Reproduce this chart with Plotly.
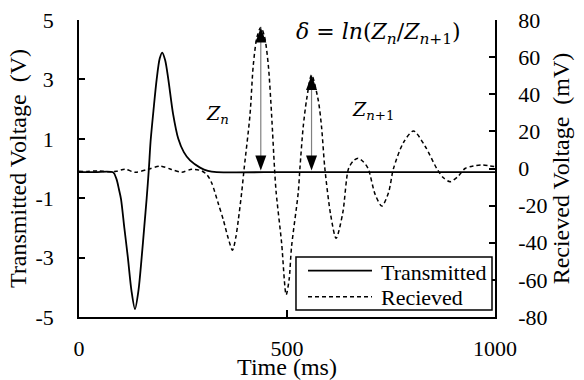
import plotly.graph_objects as go

# ---------------- data ----------------
t_tx = [0, 40, 82, 90, 96, 101, 109, 117.5, 126, 134.6, 143, 150.6, 157, 162.7, 168,
        172, 179, 186.7, 194, 200, 207, 214.7, 226, 238.7, 252, 267, 291, 310, 331,
        500, 700, 1000]
v_tx = [-0.12, -0.12, -0.13, -0.35, -0.7, -1.03, -2.0, -3.0, -4.1, -4.73, -4.1, -3.0, -1.95, -1.0, 0.0,
        0.9, 1.95, 3.0, 3.7, 3.9, 3.65, 3.0, 1.85, 1.0, 0.55, 0.27, 0.03, -0.08, -0.12,
        -0.12, -0.12, -0.12]

t_rx = [0, 20, 45, 70, 90, 110, 135, 165, 195, 222, 247, 271, 295, 308, 319, 335, 347, 358,
        369, 377, 383, 391, 397, 411, 419, 428, 437, 446, 455, 463, 470, 474, 487, 498,
        505, 511, 527, 531, 539, 547, 559, 575, 583, 591, 605, 618, 634, 648, 660, 671,
        684, 695, 712, 728, 744, 756, 780, 804, 832, 860, 876, 892, 910, 928, 948, 968,
        985, 1000]
v_rx = [-1.5, -1.6, -1.3, -1.7, -1.5, -0.4, -2.0, -0.5, 1.3, -0.5, -2.0, -0.4, -1.3, -3.5, -7.8, -19, -27.7, -37,
        -44, -37, -27.7, -13, 0, 28.8, 55.8, 71, 76, 71, 55.8, 28.8, 0, -13, -40, -68,
        -60, -42, -13, 0, 22.5, 36.9, 50.4, 36.9, 22.5, 0, -25, -37.6, -24, 0, 4.2, 5.5,
        3.5, 0, -14, -20.2, -13, 0, 14, 20.2, 12, 0, -5, -7.1, -4.5, 0, 1.4, 1.9,
        1.5, 1.0]

x_ticks = [0, 500, 1000]
y1_ticks = [-5, -3, -1, 1, 3, 5]
y2_ticks = [-80, -60, -40, -20, 0, 20, 40, 60, 80]

series_names = ["Transmitted", "Recieved"]

FONT = "Liberation Serif"
TX_LINE = dict(color="black", width=1.8)
RX_LINE = dict(color="black", width=1.5, dash="4px,3px")

fig = go.Figure()
fig.add_trace(go.Scatter(
    x=t_tx, y=v_tx, name=series_names[0], mode="lines", yaxis="y", showlegend=False,
    line=dict(**TX_LINE, shape="spline", smoothing=0.8)))
fig.add_trace(go.Scatter(
    x=t_rx, y=v_rx, name=series_names[1], mode="lines", yaxis="y2", showlegend=False,
    line=dict(**RX_LINE, shape="spline", smoothing=0.8)))

# ---------------- double arrows at the two marked peaks ----------------
i1 = max(range(len(v_rx)), key=lambda i: v_rx[i])
i2 = max((i for i in range(len(v_rx)) if t_rx[i] > 520), key=lambda i: v_rx[i])
shapes = []
for i in (i1, i2):
    tx, pk = t_rx[i], v_rx[i]
    shapes.append(dict(type="line", xref="x", yref="y2", x0=tx, x1=tx, y0=0, y1=pk,
                       line=dict(color="#808080", width=1.2)))
    shapes.append(dict(type="path", xref="x", yref="y2", xsizemode="pixel", ysizemode="pixel",
                       xanchor=tx, yanchor=pk, path="M0,0 L-5.5,-15 L5.5,-15 Z",
                       fillcolor="black", line=dict(width=0)))
    shapes.append(dict(type="path", xref="x", yref="y2", xsizemode="pixel", ysizemode="pixel",
                       xanchor=tx, yanchor=0, path="M0,-2 L-5.5,13 L5.5,13 Z",
                       fillcolor="black", line=dict(width=0)))

# ---------------- legend box (drawn in paper coordinates) ----------------
LEG_BOX = dict(x0=0.5216, x1=0.9928, y0=0.0236, y1=0.202)
LEG_ROWS = [0.156, 0.0684]          # line-sample rows
LEG_TEXT_ROWS = [0.1515, 0.0673]    # text rows
LEG_SAMPLE_X = (0.5505, 0.7043)
LEG_TEXT_X = 0.7212
shapes.append(dict(type="rect", xref="paper", yref="paper", **LEG_BOX,
                   line=dict(color="black", width=1.5), fillcolor="white", layer="above"))
for row, ls in zip(LEG_ROWS, (TX_LINE, RX_LINE)):
    shapes.append(dict(type="line", xref="paper", yref="paper", x0=LEG_SAMPLE_X[0],
                       x1=LEG_SAMPLE_X[1], y0=row, y1=row, line=ls, layer="above"))

MATHFONT = dict(family="DejaVu Serif", size=19, color="black")
NB = "&nbsp;"
annotations = [
    dict(text="<i>Z</i><sub><i>n</i></sub>", x=334, y=29, xref="x", yref="y2",
         xanchor="center", showarrow=False, font=MATHFONT),
    dict(text="<i>Z</i><sub><i>n</i>+1</sub>", x=707, y=31, xref="x", yref="y2",
         xanchor="center", showarrow=False, font=MATHFONT),
    dict(text="<i>δ</i>" + NB + "=" + NB + "<i>ln</i>(<i>Z</i><sub><i>n</i></sub>/"
              "<i>Z</i><sub><i>n</i>+1</sub>)",
         x=0.72, y=1.0, xref="paper", yref="paper", xanchor="center", yanchor="middle",
         yshift=-13, showarrow=False, font=dict(family="DejaVu Serif", size=22, color="black")),
]
for name, row in zip(series_names, LEG_TEXT_ROWS):
    annotations.append(dict(text=name, x=LEG_TEXT_X, y=row, xref="paper", yref="paper",
                            xanchor="left", yanchor="middle", showarrow=False,
                            font=dict(family=FONT, size=22, color="black")))

axis_common = dict(showline=True, linecolor="black", linewidth=1.5, showgrid=False,
                   zeroline=False, ticks="inside", tickcolor="black", tickwidth=1.5,
                   automargin=False)

fig.update_layout(
    width=584, height=380,
    margin=dict(l=79, r=89, t=20, b=63),
    plot_bgcolor="white", paper_bgcolor="white",
    font=dict(family=FONT, size=22, color="black"),
    showlegend=False,
    xaxis=dict(range=[0, 1000], tickvals=x_ticks, ticktext=[str(v) for v in x_ticks],
               ticklen=7, ticklabelstandoff=11,
               title=dict(text="Time (ms)", font=dict(size=24), standoff=2), **axis_common),
    yaxis=dict(range=[-5, 5], tickvals=y1_ticks, ticktext=[str(v) for v in y1_ticks],
               ticklen=6, ticklabelstandoff=19,
               title=dict(text="Transmitted Voltage  (V)", font=dict(size=24), standoff=2),
               **axis_common),
    yaxis2=dict(range=[-80, 80], tickvals=y2_ticks, ticktext=[str(v) for v in y2_ticks],
                ticklen=6, ticklabelstandoff=17,
                overlaying="y", side="right",
                title=dict(text="Recieved Voltage  (mV)", font=dict(size=24), standoff=6),
                **axis_common),
    shapes=shapes,
    annotations=annotations,
)

fig.write_html("out.html", config={"displayModeBar": False},
               post_script="document.body.style.margin='0';")
